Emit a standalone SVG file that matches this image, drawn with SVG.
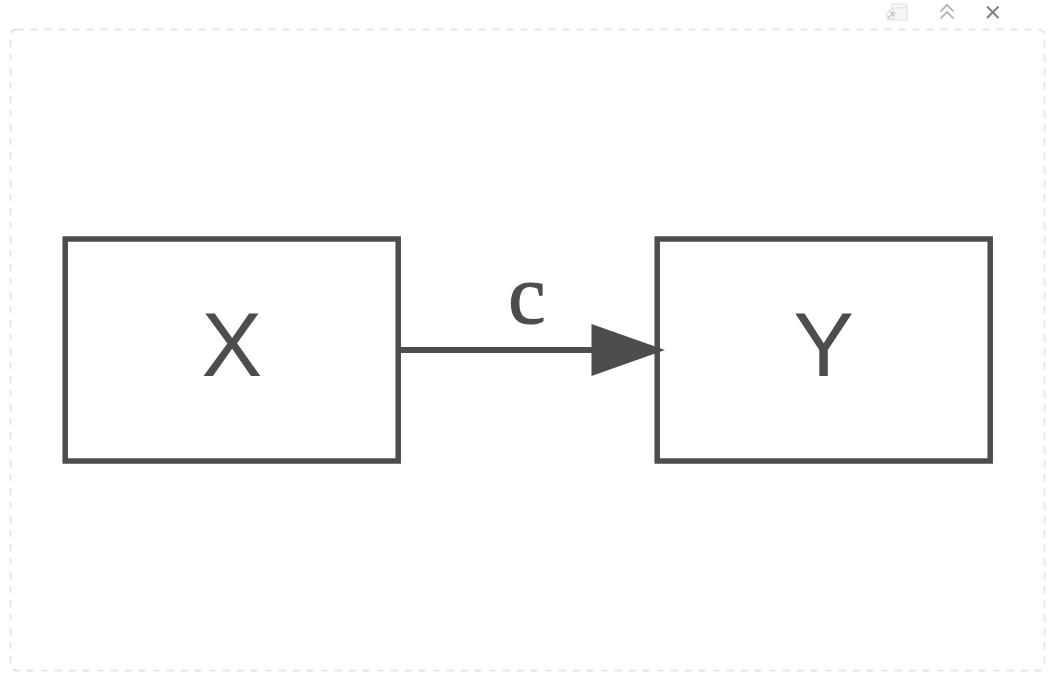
<svg xmlns="http://www.w3.org/2000/svg" width="1058" height="676" viewBox="0 0 1058 676">
<style>
.box{fill:none;stroke:#4d4d4d;stroke-width:5.500}
.lbl{font-family:"Liberation Sans",Arial,sans-serif;font-size:91px;fill:#4d4d4d;text-anchor:middle}
.edge{font-family:"Liberation Serif","Times New Roman",serif;font-size:84px;fill:#4d4d4d;stroke:#4d4d4d;stroke-width:1.200;text-anchor:middle}
</style>
<rect width="1058" height="676" fill="#ffffff"/>
<rect id="frame" x="10.500" y="29.500" width="1034" height="641" rx="6" fill="none" stroke="#e6e6e6" stroke-width="2" stroke-dasharray="7 7"/>
<g id="toolbar">
<path d="M892 4h13a2 2 0 0 1 2 2v14h-15z" fill="#f6f6f6" stroke="#dfdfdf" stroke-width="1.200"/>
<path d="M892 8h15" stroke="#e4e4e4" stroke-width="1" fill="none"/>
<path d="M887 12.500l5-3.500 3 4-2.500 6-4 0.500-2-3z" fill="#ffffff" stroke="#d4d4d4" stroke-width="1"/>
<path d="M887.500 18.500l5-5M889.500 12.500h3.500v3.500" fill="none" stroke="#bdbdbd" stroke-width="1.200"/>
<path d="M940.500 11.500l6.500-6.500 6.500 6.500M940.500 18.500l6.500-6.500 6.500 6.500" fill="none" stroke="#a9abb0" stroke-width="1.600"/>
<path d="M987 6.500l11.500 11.500M998.500 6.500l-11.500 11.500" fill="none" stroke="#7b7f88" stroke-width="2"/>
</g>
<g id="connectors">
<path d="M398 350H595" fill="none" stroke="#4d4d4d" stroke-width="6"/>
<path d="M591.500 324L665 350L591.500 376Z" fill="#4d4d4d"/>
<text class="edge" x="527" y="323">c</text>
</g>
<g id="node-x">
<rect class="box" x="65.200" y="239" width="333" height="222"/>
<text class="lbl" x="231.800" y="376">X</text>
</g>
<g id="node-y">
<rect class="box" x="657.200" y="239" width="333" height="222"/>
<text class="lbl" x="823.500" y="376">Y</text>
</g>
</svg>
